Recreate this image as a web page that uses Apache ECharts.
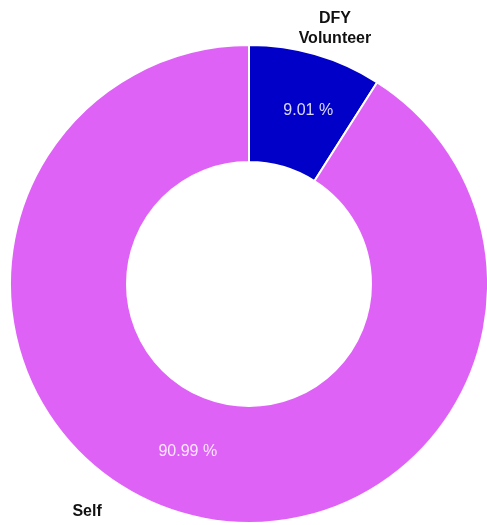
<!DOCTYPE html>
<html>
<head>
<meta charset="utf-8">
<title>Donut</title>
<script src="https://cdn.jsdelivr.net/npm/echarts@6/dist/echarts.min.js"></script>
<style>
  html, body { margin: 0; padding: 0; background: #fff; }
  #chart { width: 487px; height: 525px; }
</style>
</head>
<body>
<div id="chart"></div>
<script>
  // data
  var categories = ['DFY\nVolunteer', 'Self'];
  var shares = [9.01, 90.99];
  var colors = ['#0000c8', '#df62f7'];

  // label nudges, per slice
  var nameShift = [[-20, -12], [-56, -16]];
  var pctShift = [[8, 3], [-10, -9]];

  var pieData = categories.map(function (name, i) {
    return { name: name, value: shares[i], itemStyle: { color: colors[i] } };
  });

  var chart = echarts.init(document.getElementById('chart'));
  chart.setOption({
    animation: false,
    series: [
      {
        type: 'pie',
        center: [249, 284],
        radius: [122, 239],
        startAngle: 90,
        data: pieData,
        itemStyle: { borderColor: '#fff', borderWidth: 2 },
        label: {
          position: 'inside',
          formatter: '{d} %',
          color: 'rgba(255,255,255,0.85)',
          fontFamily: 'Liberation Sans, Arial, sans-serif',
          fontSize: 16
        },
        labelLine: { show: false },
        labelLayout: function (params) {
          var s = pctShift[params.dataIndex];
          return { dx: s[0], dy: s[1] };
        },
        emphasis: { disabled: true }
      },
      {
        type: 'pie',
        silent: true,
        center: [249, 284],
        radius: [122, 239],
        startAngle: 90,
        data: categories.map(function (name, i) {
          return { name: name, value: shares[i] };
        }),
        itemStyle: { color: 'rgba(0,0,0,0)', borderWidth: 0 },
        label: {
          position: 'outside',
          formatter: '{b}',
          color: '#111',
          fontWeight: 'bold',
          fontFamily: 'Liberation Sans, Arial, sans-serif',
          fontSize: 16,
          lineHeight: 20,
          align: 'center'
        },
        labelLine: { show: false },
        labelLayout: function (params) {
          var s = nameShift[params.dataIndex];
          return { dx: s[0], dy: s[1], align: 'center' };
        },
        emphasis: { disabled: true }
      }
    ]
  });
</script>
</body>
</html>
